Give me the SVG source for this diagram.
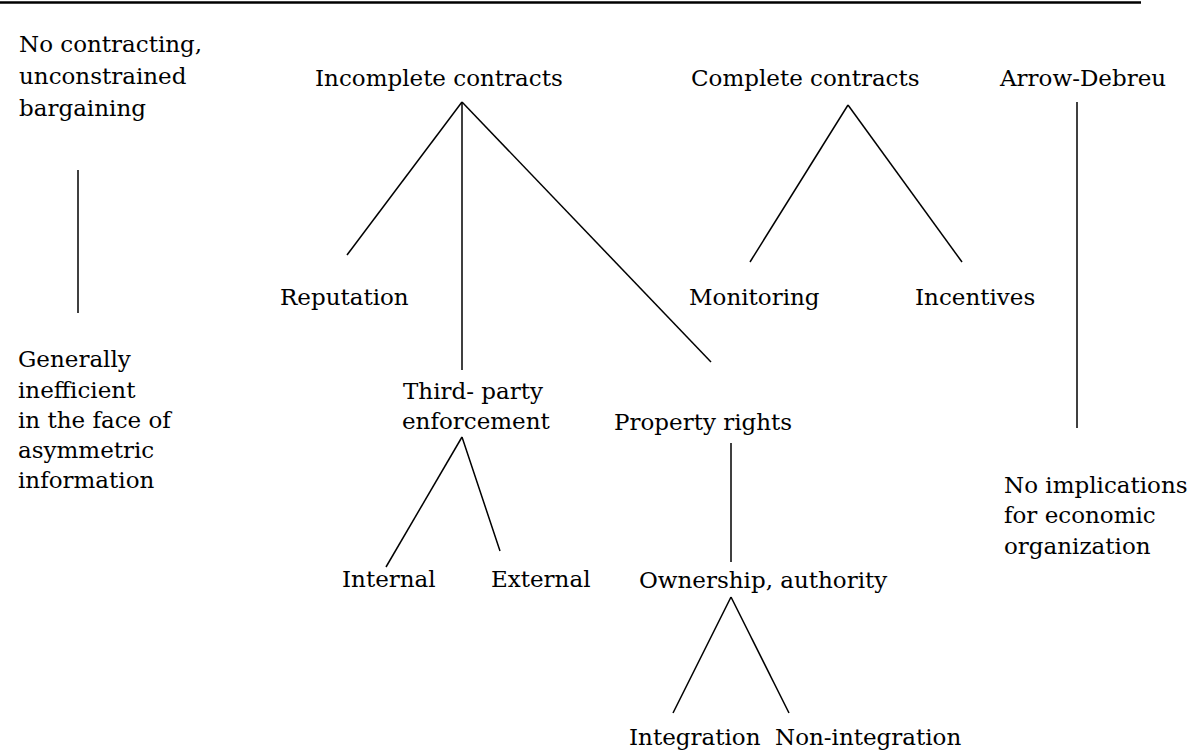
<svg xmlns="http://www.w3.org/2000/svg" width="1199" height="751" viewBox="0 0 1199 751">
<style>
text{font-family:"DejaVu Serif","Liberation Serif",serif;font-size:23px;fill:#000}
.c{stroke:#000;stroke-width:1.5;fill:none}
</style>
<rect width="1199" height="751" fill="#fff"/>
<line x1="0" y1="2.5" x2="1141" y2="2.5" stroke="#000" stroke-width="2.5"/>
<g id="no-contracting"><text x="19" y="52">No contracting,</text><text x="19" y="84">unconstrained</text><text x="19" y="116">bargaining</text></g>
<g id="generally"><text x="18" y="367">Generally</text><text x="18" y="398">inefficient</text><text x="18" y="428">in the face of</text><text x="18" y="458">asymmetric</text><text x="18" y="488">information</text></g>
<g id="incomplete"><text x="315" y="86">Incomplete contracts</text></g>
<g id="reputation"><text x="280" y="305">Reputation</text></g>
<g id="third-party"><text x="403" y="399">Third- party</text><text x="402" y="429">enforcement</text></g>
<g id="property"><text x="614" y="430">Property rights</text></g>
<g id="internal"><text x="342" y="587">Internal</text></g>
<g id="external"><text x="491" y="587">External</text></g>
<g id="ownership"><text x="639" y="588">Ownership, authority</text></g>
<g id="integration"><text x="629" y="745">Integration</text></g>
<g id="non-integration"><text x="775" y="745">Non-integration</text></g>
<g id="complete"><text x="691" y="86">Complete contracts</text></g>
<g id="monitoring"><text x="689" y="305">Monitoring</text></g>
<g id="incentives"><text x="915" y="305">Incentives</text></g>
<g id="arrow-debreu"><text x="1000" y="86">Arrow-Debreu</text></g>
<g id="no-implications"><text x="1004" y="493">No implications</text><text x="1004" y="523">for economic</text><text x="1004" y="554">organization</text></g>
<g id="connectors" class="c">
<line x1="78" y1="170" x2="78" y2="313"/>
<line x1="462" y1="102" x2="347" y2="255"/>
<line x1="462" y1="102" x2="462" y2="370"/>
<line x1="462" y1="102" x2="711" y2="362"/>
<line x1="462" y1="437" x2="386" y2="567"/>
<line x1="462" y1="437" x2="500" y2="551"/>
<line x1="731" y1="443" x2="731" y2="562"/>
<line x1="731" y1="597" x2="673" y2="713"/>
<line x1="731" y1="597" x2="789" y2="713"/>
<line x1="848" y1="105" x2="750" y2="262"/>
<line x1="848" y1="105" x2="962" y2="262"/>
<line x1="1077" y1="102" x2="1077" y2="428"/>
</g>
</svg>
